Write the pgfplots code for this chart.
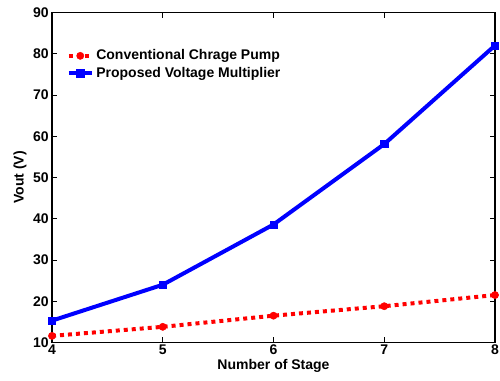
\documentclass[border=0pt]{standalone}
\usepackage{pgfplots}
\pgfplotsset{compat=1.18}
\usepackage{fontspec}
\setmainfont{Liberation Sans}
\begin{document}
\begin{tikzpicture}[x=0.75pt,y=0.75pt]
\path[use as bounding box] (0,0) rectangle (500,381);
\begin{axis}[
  at={(52*0.75pt,38.5*0.75pt)}, anchor=south west,
  scale only axis,
  width=443*0.75pt, height=330*0.75pt,
  xmin=4, xmax=8, ymin=10, ymax=90,
  xtick={4,5,6,7,8}, ytick={10,20,...,90},
  tick align=inside,
  major tick length=4pt,
  axis line style={black, line width=0.8pt},
  every tick/.style={black, line width=0.6pt},
  font=\bfseries\fontsize{10.5}{12}\selectfont,
  ticklabel style={font=\bfseries\fontsize{10.5}{12}\selectfont},
  /pgf/number format/assume math mode=true,
  xlabel={Number of Stage},
  ylabel={Vout (V)},
  xlabel style={yshift=3pt},
  ylabel style={yshift=-2pt},
  xticklabel style={yshift=2pt},
  yticklabel style={xshift=1pt},
  legend style={at={(0.03,0.9)}, anchor=north west, draw=none, fill=white,
    font=\bfseries\fontsize{10.5}{12}\selectfont, row sep=0pt,
    inner sep=1pt},
  legend cell align=left,
]
\addplot[red, line width=3pt, dash pattern=on 3pt off 3pt, mark=*, mark size=2.7pt, mark options={solid, line width=0.4pt}]
  coordinates {(4,11.6) (5,13.8) (6,16.5) (7,18.8) (8,21.5)};
\addlegendentry{Conventional Chrage Pump}
\addplot[blue, line width=3pt, mark=square*, mark size=2.7pt, mark options={solid, line width=0.4pt}]
  coordinates {(4,15.3) (5,24) (6,38.6) (7,58.1) (8,82)};
\addlegendentry{Proposed Voltage Multiplier}
\end{axis}
\end{tikzpicture}
\end{document}
